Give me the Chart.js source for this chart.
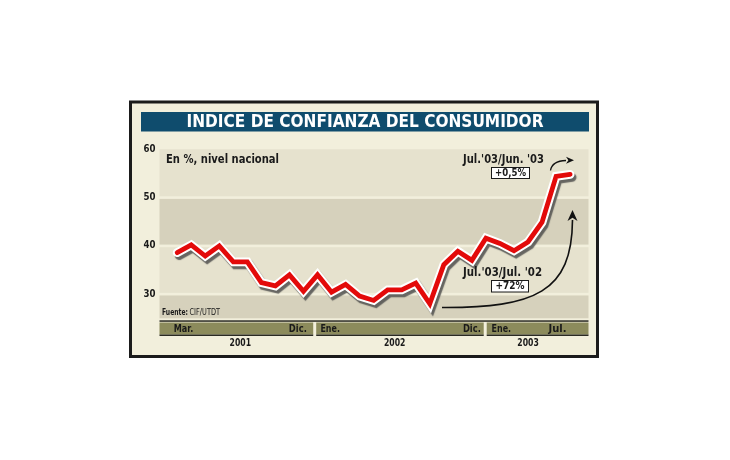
<!DOCTYPE html>
<html>
<head>
<meta charset="utf-8">
<script src="https://cdn.jsdelivr.net/npm/chart.js@4.4.0/dist/chart.umd.min.js"></script>
<style>
    body { margin: 0; background: #fff; }
    #wrap { width: 730px; height: 460px; }
</style>
</head>
<body>
<div id="wrap"><canvas id="chart" width="730" height="460"></canvas></div>
<script>
const title = "INDICE DE CONFIANZA DEL CONSUMIDOR";
const months = ["Mar.", "Abr.", "May.", "Jun.", "Jul.", "Ago.", "Sep.", "Oct.", "Nov.", "Dic.",
    "Ene.", "Feb.", "Mar.", "Abr.", "May.", "Jun.", "Jul.", "Ago.", "Sep.", "Oct.", "Nov.", "Dic.",
    "Ene.", "Feb.", "Mar.", "Abr.", "May.", "Jun.", "Jul."];
const indice = [38.6, 40.2, 37.9, 40.0, 36.7, 36.7, 32.4, 31.7, 34.0, 30.6,
    34.0, 30.4, 32.0, 29.6, 28.7, 30.9, 30.9, 32.3, 28.0, 36.1, 38.9, 37.0,
    41.6, 40.5, 39.0, 40.8, 44.9, 54.4, 54.8];
const years = ["2001", "2002", "2003"];
const yearFirst = [0, 10, 22];
const yearLast = [9, 21, 28];
const yTicks = [30, 40, 50, 60];

const FONT = '"DejaVu Sans", sans-serif';
const INK = "#1a1a1a";

// draws text squeezed/stretched to a given width
function fitText(ctx, text, x, y, w, font, color, align) {
    ctx.save();
    ctx.font = font;
    ctx.fillStyle = color;
    ctx.textBaseline = "middle";
    ctx.textAlign = "left";
    const m = ctx.measureText(text).width;
    const k = w ? w / m : 1;
    let left = x;
    if (align === "center") left = x - m * k / 2;
    if (align === "right") left = x - m * k;
    ctx.translate(left, y);
    ctx.scale(k, 1);
    ctx.fillText(text, 0, 0);
    ctx.restore();
}

function arrowHead(ctx, tx, ty, angle, len, half) {
    ctx.save();
    ctx.translate(tx, ty);
    ctx.rotate(angle);
    ctx.beginPath();
    ctx.moveTo(0, 0);
    ctx.lineTo(-len, -half);
    ctx.lineTo(-len * 0.7, 0);
    ctx.lineTo(-len, half);
    ctx.closePath();
    ctx.fill();
    ctx.restore();
}

const backdrop = {
    id: "backdrop",
    beforeDraw(chart) {
        const { ctx, chartArea: a, scales: { x, y } } = chart;
        ctx.save();
        ctx.fillStyle = "#ffffff";
        ctx.fillRect(0, 0, chart.width, chart.height);
        ctx.fillStyle = "#f2efdc";
        ctx.fillRect(130, 102, 468, 255);
        ctx.lineWidth = 3;
        ctx.strokeStyle = "#1b1b1b";
        ctx.strokeRect(130.5, 102, 467, 254.5);

        // title bar
        ctx.fillStyle = "#0f4c6d";
        ctx.fillRect(141, 112, 448, 19.5);
        fitText(ctx, title, 365, 122.3, 357, "bold 18px " + FONT, "#ffffff", "center");

        // horizontal bands
        const edges = [y.max].concat(yTicks.slice().reverse().slice(1), [y.min]);
        for (let i = 0; i < edges.length - 1; i++) {
            const top = y.getPixelForValue(edges[i]) + (i === 0 ? 0 : 1.3);
            const bot = y.getPixelForValue(edges[i + 1]) - (i === edges.length - 2 ? 0 : 1.3);
            ctx.fillStyle = i % 2 === 0 ? "#e6e2ce" : "#d6d1bc";
            ctx.fillRect(a.left, top, a.right - a.left, bot - top);
        }

        // y tick labels
        yTicks.forEach(v => {
            fitText(ctx, String(v), 155.5, y.getPixelForValue(v), 12, "bold 10px " + FONT, INK, "right");
        });

        // month / year strip
        ctx.fillStyle = "#2a2a22";
        ctx.fillRect(a.left, 320.3, a.right - a.left, 1.5);
        const cuts = [a.left, x.getPixelForValue(9.8), x.getPixelForValue(21.95), a.right];
        const labelAt = [[0.45, 8.6], [10.9, 21.0], [23.1, 27.1]];
        years.forEach((yr, i) => {
            const l = i === 0 ? cuts[0] : cuts[i] + 1.5;
            const r = i === years.length - 1 ? cuts[i + 1] : cuts[i + 1] - 1.5;
            ctx.fillStyle = "#8c8b5c";
            ctx.fillRect(l, 322.5, r - l, 12);
            ctx.fillStyle = "#2a2a22";
            ctx.fillRect(l, 334.5, r - l, 1.5);
            const f = "bold 10.5px " + FONT;
            fitText(ctx, months[yearFirst[i]], x.getPixelForValue(labelAt[i][0]), 328.8, 19.5, f, INK, "center");
            fitText(ctx, months[yearLast[i]], x.getPixelForValue(labelAt[i][1]), 328.8, 18, f, INK, "center");
            const mid = x.getPixelForValue((yearFirst[i] + yearLast[i]) / 2);
            fitText(ctx, yr, mid, 343.5, 21.5, f, INK, "center");
        });

        // captions
        fitText(ctx, "En %, nivel nacional", 166, 160, 113, "bold 12.5px " + FONT, INK, "left");
        fitText(ctx, "Fuente:", 162, 312.5, 26, "bold 8px " + FONT, INK, "left");
        fitText(ctx, "CIF/UTDT", 189.5, 312.5, 30.5, "8px " + FONT, INK, "left");
        ctx.restore();
    },
    afterDatasetsDraw(chart) {
        const { ctx } = chart;
        ctx.save();
        // Jul.'03 / Jun.'03
        fitText(ctx, "Jul.'03/Jun. '03", 503.5, 160, 81, "bold 11.5px " + FONT, INK, "center");
        ctx.fillStyle = "#ffffff";
        ctx.strokeStyle = INK;
        ctx.lineWidth = 1;
        ctx.fillRect(491.5, 167.5, 38, 11);
        ctx.strokeRect(491.5, 167.5, 38, 11);
        fitText(ctx, "+0,5%", 510.5, 173.3, 31, "bold 10.5px " + FONT, INK, "center");

        // Jul.'03 / Jul.'02
        fitText(ctx, "Jul.'03/Jul. '02", 502.5, 273, 79, "bold 11.5px " + FONT, INK, "center");
        ctx.fillRect(491.5, 280.5, 37, 11.5);
        ctx.strokeRect(491.5, 280.5, 37, 11.5);
        fitText(ctx, "+72%", 510, 286.5, 29, "bold 10.5px " + FONT, INK, "center");

        // arrows
        ctx.strokeStyle = "#111111";
        ctx.fillStyle = "#111111";
        ctx.lineWidth = 1.6;
        ctx.beginPath();
        ctx.moveTo(442, 307.5);
        ctx.bezierCurveTo(535, 308, 572, 292, 572.5, 220);
        ctx.stroke();
        arrowHead(ctx, 572.5, 210, -Math.PI / 2, 11, 5);

        ctx.lineWidth = 1.3;
        ctx.beginPath();
        ctx.moveTo(550.5, 170.5);
        ctx.quadraticCurveTo(552, 161, 566, 160.5);
        ctx.stroke();
        arrowHead(ctx, 574, 160.3, 0, 8, 3.5);
        ctx.restore();
    }
};

const shadow = {
    id: "shadow",
    beforeDatasetDraw(chart, args) {
        if (args.index !== 1) return;
        const ctx = chart.ctx;
        ctx.save();
        ctx.shadowColor = "rgba(70,70,70,0.8)";
        ctx.shadowOffsetX = 2;
        ctx.shadowOffsetY = 3;
        ctx.shadowBlur = 1;
    },
    afterDatasetDraw(chart, args) {
        if (args.index !== 1) return;
        chart.ctx.restore();
    }
};

const points = indice.map((v, i) => ({ x: i, y: v }));

new Chart(document.getElementById("chart"), {
    type: "line",
    data: {
        labels: months,
        datasets: [{
            data: points,
            borderColor: "#e30a0a",
            borderWidth: 4.8,
            pointRadius: 0,
            tension: 0,
            borderJoinStyle: "miter",
            borderCapStyle: "round"
        }, {
            data: points,
            borderColor: "#ffffff",
            borderWidth: 8.8,
            pointRadius: 0,
            tension: 0,
            borderJoinStyle: "miter",
            borderCapStyle: "round"
        }]
    },
    options: {
        responsive: false,
        animation: false,
        events: [],
        layout: { padding: { left: 137, right: 141.5, top: 149.3, bottom: 141.7 } },
        plugins: { legend: { display: false }, tooltip: { enabled: false } },
        scales: {
            x: { type: "linear", display: false, min: -1.26, max: 29.31 },
            y: {
                min: 25,
                max: 60,
                afterBuildTicks: scale => { scale.ticks = yTicks.map(v => ({ value: v })); },
                afterFit: scale => { scale.width = 22.5; },
                grid: { display: false },
                border: { display: false },
                ticks: { display: false }
            }
        }
    },
    plugins: [backdrop, shadow]
});
</script>
</body>
</html>
